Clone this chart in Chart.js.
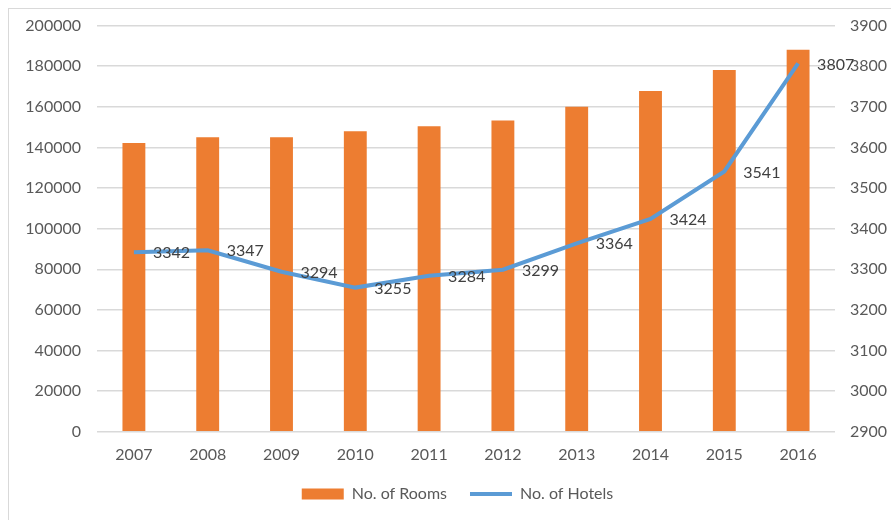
<!DOCTYPE html>
<html>
<head>
<meta charset="utf-8">
<script src="https://cdn.jsdelivr.net/npm/chart.js"></script>
<style>
  html, body { margin: 0; padding: 0; background: #fff; }
  #wrap { position: relative; width: 891px; height: 520px; }
  #frame { position: absolute; left: 8px; top: 8px; width: 900px; height: 540px; border: 1px solid #d9d9d9; box-sizing: border-box; }
  canvas { position: absolute; left: 0; top: 0; }
</style>
</head>
<body>
<div id="wrap">
  <div id="frame"></div>
  <canvas id="chart" width="891" height="520"></canvas>
</div>
<script>
  const years = ['2007', '2008', '2009', '2010', '2011', '2012', '2013', '2014', '2015', '2016'];
  const rooms = [142200, 145000, 145000, 148000, 150500, 153300, 160000, 167800, 178200, 188100];
  const hotels = [3342, 3347, 3294, 3255, 3284, 3299, 3364, 3424, 3541, 3807];

  const FONT = 'Lato, "Open Sans", sans-serif';
  const TXT = '#595959';

  // labels to the right of each line point
  const pointLabels = {
    id: 'pointLabels',
    afterDatasetsDraw(chart) {
      const meta = chart.getDatasetMeta(1);
      const ctx = chart.ctx;
      ctx.save();
      ctx.font = '16px ' + FONT;
      ctx.fillStyle = '#404040';
      ctx.textAlign = 'left';
      ctx.textBaseline = 'middle';
      meta.data.forEach((pt, i) => {
        ctx.fillText(String(hotels[i]), pt.x + 19, pt.y + 1);
      });
      ctx.restore();
    }
  };

  // nudge the legend a bit to the right, like the original
  const legendShift = {
    id: 'legendShift',
    afterLayout(chart) {
      chart.legend.left += 12;
      chart.legend.right += 12;
    }
  };

  const plain = v => String(v);

  const config = {
    type: 'bar',
    data: {
      labels: years,
      datasets: [
        {
          type: 'bar',
          label: 'No. of Rooms',
          data: rooms,
          backgroundColor: '#ED7D31',
          borderWidth: 0,
          pointStyle: 'rect',
          yAxisID: 'y',
          barPercentage: 0.62,
          categoryPercentage: 0.5,
          order: 2
        },
        {
          type: 'line',
          label: 'No. of Hotels',
          data: hotels,
          borderColor: '#5B9BD5',
          backgroundColor: '#5B9BD5',
          borderWidth: 4,
          pointRadius: 0,
          pointStyle: 'line',
          tension: 0,
          yAxisID: 'y2',
          order: 1
        }
      ]
    },
    options: {
      responsive: false,
      animation: false,
      layout: { padding: { top: 19, bottom: 8, left: 0, right: 0 } },
      plugins: {
        title: { display: false },
        tooltip: { enabled: false },
        legend: {
          position: 'bottom',
          labels: {
            usePointStyle: true,
            pointStyleWidth: 42,
            boxHeight: 11,
            padding: 23,
            color: TXT,
            font: { family: FONT, size: 16 },
            sort: (a, b) => a.datasetIndex - b.datasetIndex
          }
        }
      },
      scales: {
        x: {
          grid: { display: false, drawTicks: false },
          border: { display: false },
          ticks: { color: TXT, font: { family: FONT, size: 16 }, padding: 13 },
          afterFit(scale) { scale.height -= 14; }
        },
        y: {
          position: 'left',
          min: 0,
          max: 200000,
          grid: { color: '#d9d9d9', lineWidth: 1.5, drawTicks: false },
          border: { display: false },
          ticks: { stepSize: 20000, color: TXT, font: { family: FONT, size: 16 }, padding: 16, callback: plain },
          afterFit(scale) { scale.width = 97; }
        },
        y2: {
          position: 'right',
          min: 2900,
          max: 3900,
          grid: { display: false },
          border: { display: false },
          ticks: { stepSize: 100, color: TXT, font: { family: FONT, size: 16 }, padding: 7, callback: plain },
          afterFit(scale) { scale.width = 56; }
        }
      }
    },
    plugins: [pointLabels, legendShift]
  };

  const chart = new Chart(document.getElementById('chart'), config);
</script>
</body>
</html>
